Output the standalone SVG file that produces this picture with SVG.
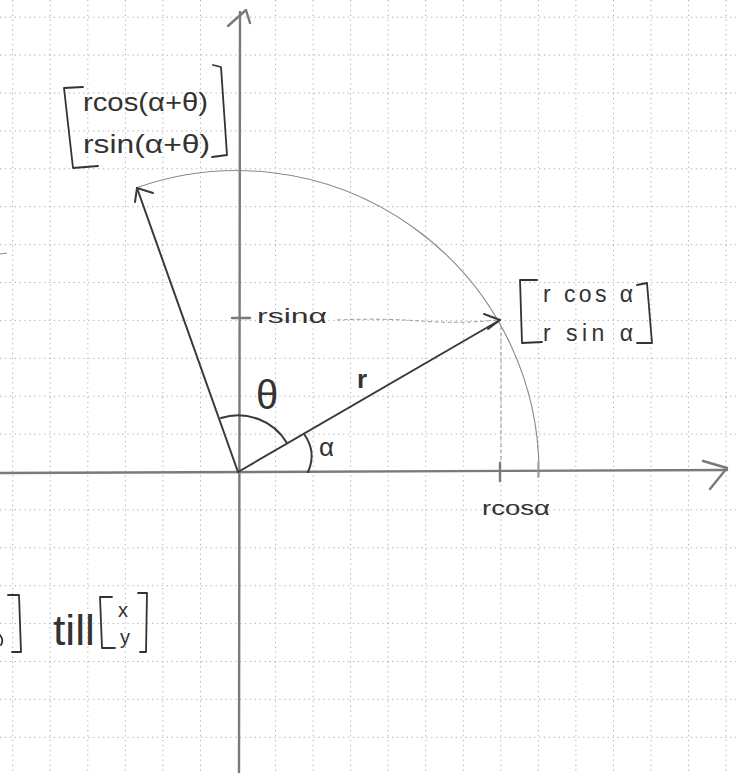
<svg xmlns="http://www.w3.org/2000/svg" width="738" height="773" viewBox="0 0 738 773">
<defs>
<style>
.grid{stroke:#b0b0b0;stroke-width:1;stroke-dasharray:1.3 3.6;fill:none}
.axis{stroke:#7a7a7a;stroke-width:2.4;fill:none;stroke-linecap:round;stroke-linejoin:round}
.vec{stroke:#3a3a3a;stroke-width:2;fill:none;stroke-linecap:round;stroke-linejoin:round}
.thin{stroke:#8a8a8a;stroke-width:1.1;fill:none}
.dash{stroke:#999;stroke-width:1;fill:none;stroke-dasharray:4 2.5}
.pen{stroke:#333;stroke-width:1.8;fill:none;stroke-linecap:round;stroke-linejoin:round}
.t{font-family:"Liberation Sans","DejaVu Sans",sans-serif;fill:#333}
</style>
</defs>
<rect width="738" height="773" fill="#ffffff"/>
<g id="grid">
<path class="grid" d="M12.7 0V773M50.2 0V773M87.8 0V773M125.4 0V773M162.9 0V773M200.5 0V773M275.6 0V773M313.1 0V773M350.6 0V773M388.2 0V773M425.7 0V773M463.3 0V773M500.8 0V773M538.4 0V773M575.9 0V773M613.5 0V773M651 0V773M688.6 0V773M726.1 0V773"/>
<path class="grid" d="M0 17.2H738M0 55.1H738M0 93H738M0 130.9H738M0 168.8H738M0 206.7H738M0 244.6H738M0 282.5H738M0 320.4H738M0 358.3H738M0 396.2H738M0 434.1H738M0 509.9H738M0 547.8H738M0 585.7H738M0 623.6H738M0 661.5H738M0 699.4H738M0 737.3H738"/>
</g>
<g id="connectors">
<g id="y-axis">
<path class="axis" d="M239 773 L240 12"/>
<path class="axis" d="M228 26 L246 10 L250 23"/>
</g>
<g id="x-axis">
<path class="axis" d="M0 473 L727 470"/>
<path class="axis" d="M703 461 L727 468 L710 489"/>
</g>
<path id="circle-arc" class="thin" d="M136 188 A302 302 0 0 1 539 477"/>
<g id="vector-r">
<path class="vec" d="M238 472 L500 320"/>
<path class="vec" d="M484 314 L500 320 L488 329"/>
</g>
<g id="vector-rotated">
<path class="vec" d="M238 472 L137 188"/>
<path class="vec" d="M153 193 L137 188 L135 202"/>
</g>
<path id="rsin-guide" class="dash" d="M337 320 Q380 318 420 321 T497 320"/>
<path id="rcos-guide" class="dash" d="M501 326 L501 462"/>
<path id="tick-y" class="axis" d="M232 318 L250 318"/>
<path id="tick-x1" class="axis" d="M500 463 L500 481"/>
<path id="tick-x2" class="thin" d="M538 462 L538 478"/>
<path id="theta-arc" class="vec" d="M221 418 A57 57 0 0 1 287 443"/>
<path id="alpha-arc" class="vec" d="M304 434 Q317 452 308 472"/>
<path id="stray" class="thin" d="M0 254 L7 253"/>
</g>
<g id="matrix-rotated">
<path class="pen" d="M83 87 L64 88 L73 168 L98 166"/>
<path class="pen" d="M213 65 L221 67 L227 155 L212 157"/>
<text class="t" x="83" y="111" font-size="25" textLength="125" lengthAdjust="spacingAndGlyphs">rcos(α+θ)</text>
<text class="t" x="83" y="153" font-size="25" textLength="127" lengthAdjust="spacingAndGlyphs">rsin(α+θ)</text>
</g>
<g id="matrix-original">
<path class="pen" d="M537 280 L520 280 L522 343 L542 342"/>
<path class="pen" d="M637 285 L647 283 L652 343 L637 343"/>
<text class="t" x="543" y="302" font-size="23" textLength="90" lengthAdjust="spacing">r cos α</text>
<text class="t" x="543" y="341" font-size="23" textLength="90" lengthAdjust="spacing">r sin α</text>
</g>
<g id="label-rsin"><text class="t" x="257" y="323" font-size="20" textLength="70" lengthAdjust="spacingAndGlyphs">rsinα</text></g>
<g id="label-rcos"><text class="t" x="482" y="515" font-size="20" textLength="68" lengthAdjust="spacingAndGlyphs">rcosα</text></g>
<g id="label-r"><text class="t" x="357" y="388" font-size="26" font-weight="bold">r</text></g>
<g id="label-theta"><text class="t" x="256" y="409" font-size="40">θ</text></g>
<g id="label-alpha"><text class="t" x="319" y="456" font-size="26">α</text></g>
<g id="bottom-note">
<path class="pen" d="M0 635 Q4 640 1 645"/>
<path class="pen" d="M8 595 L19 595 L21 652 L12 652"/>
<text class="t" x="53" y="645" font-size="42" textLength="42" lengthAdjust="spacingAndGlyphs">till</text>
<path class="pen" d="M112 597 L100 597 L102 648 L115 648"/>
<path class="pen" d="M138 593 L147 593 L146 652 L140 652"/>
<text class="t" x="118" y="617" font-size="20">x</text>
<text class="t" x="120" y="644" font-size="20">y</text>
</g>
</svg>
